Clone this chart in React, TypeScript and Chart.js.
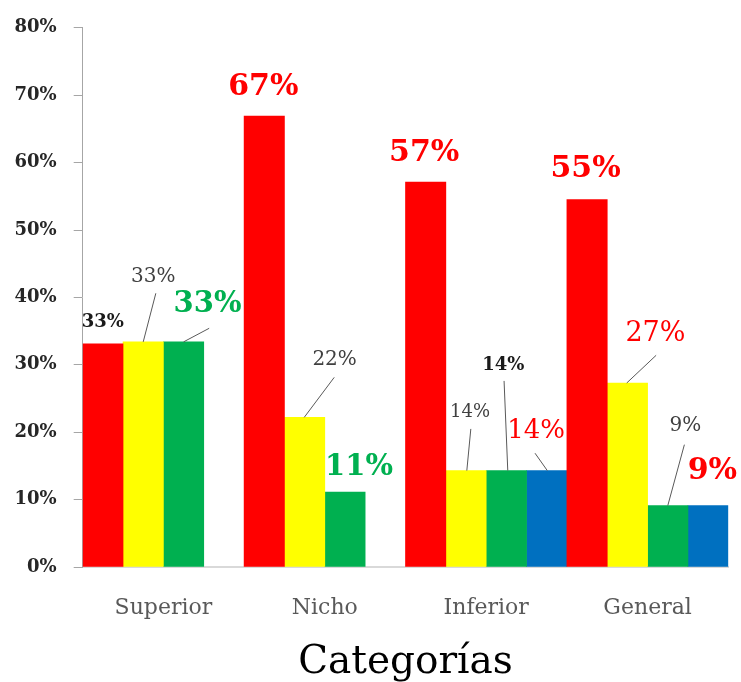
import React, { useEffect, useRef } from "react";
import { Chart, registerables } from "chart.js";

Chart.register(...registerables);

// ---- data ----
const categories = ["Superior", "Nicho", "Inferior", "General"];
const redValues = [33.1, 66.9, 57.1, 54.5];
const yellowValues = [33.4, 22.2, 14.3, 27.3];
const greenValues = [33.4, 11.1, 14.3, 9.1];
const blueValues: (number | null)[] = [null, null, 14.3, 9.1];
const yMin = 0;
const yMax = 80;
const yStep = 10;
const axisTitle = "Categorías";

// ---- styles ----
const COLORS = ["#ff0000", "#ffff00", "#00b050", "#0070c0"];
const FONT = "'DejaVu Serif', serif";
const GRAY = "#404040";
const RED = "#ff0000";
const GREEN = "#00b050";

type LabelStyle = {
  dx: number;
  dy: number;
  size: number;
  bold: boolean;
  color: string;
  leader?: [number, number, number, number];
} | null;

// offsets are relative to the top-centre of each bar
const labelStyles: LabelStyle[][] = [
  [
    { dx: 0, dy: -23, size: 18, bold: true, color: "#1a1a1a" },
    { dx: -1, dy: -32, size: 30, bold: true, color: RED },
    { dx: -1.5, dy: -32, size: 30, bold: true, color: RED },
    { dx: -1.5, dy: -33, size: 30, bold: true, color: RED },
  ],
  [
    { dx: 10, dy: -67, size: 20, bold: false, color: GRAY, leader: [0, 0, 12.6, -48.6] },
    { dx: 30, dy: -60, size: 20, bold: false, color: GRAY, leader: [-0.4, 0, 29.6, -40] },
    { dx: 4, dy: -60, size: 18, bold: false, color: GRAY, leader: [0.8, 0, 4.8, -41.7] },
    { dx: 28, dy: -52, size: 27, bold: false, color: RED, leader: [-0.7, 0, 28.7, -27.7] },
  ],
  [
    { dx: 24, dy: -40, size: 29, bold: true, color: GREEN, leader: [0, 0, 25.6, -13.6] },
    { dx: 14, dy: -28, size: 29, bold: true, color: GREEN },
    { dx: -3, dy: -107, size: 18, bold: true, color: "#1a1a1a", leader: [1.4, 0, -2.3, -89.7] },
    { dx: 17.6, dy: -82, size: 20, bold: false, color: GRAY, leader: [0, 0, 16.6, -61] },
  ],
  [
    null,
    null,
    { dx: -10.7, dy: -42, size: 26, bold: false, color: RED, leader: [0.6, 0, -11.7, -17.4] },
    { dx: 4.3, dy: -37, size: 30, bold: true, color: RED },
  ],
];

const labelPlugin = {
  id: "barLabels",
  afterDatasetsDraw(chart: any) {
    const ctx = chart.ctx;
    chart.data.datasets.forEach((ds: any, di: number) => {
      const meta = chart.getDatasetMeta(di);
      meta.data.forEach((bar: any, j: number) => {
        const st = labelStyles[di] && labelStyles[di][j];
        const v = ds.data[j];
        if (!st || v == null) return;
        const { x, y } = bar.getProps(["x", "y"], true);
        ctx.save();
        if (st.leader) {
          ctx.strokeStyle = "#595959";
          ctx.lineWidth = 1;
          ctx.beginPath();
          ctx.moveTo(x + st.leader[0], y + st.leader[1]);
          ctx.lineTo(x + st.leader[2], y + st.leader[3]);
          ctx.stroke();
        }
        ctx.fillStyle = st.color;
        ctx.font = `${st.bold ? "bold " : ""}${st.size}px ${FONT}`;
        ctx.textAlign = "center";
        ctx.textBaseline = "alphabetic";
        ctx.fillText(Math.round(v) + "%", x + st.dx, y + st.dy + 0.36 * st.size);
        ctx.restore();
      });
    });
  },
};

export default function App() {
  const ref = useRef<HTMLCanvasElement | null>(null);
  useEffect(() => {
    if (!ref.current) return;
    const series = [redValues, yellowValues, greenValues, blueValues];
    const chart = new Chart(ref.current, {
      type: "bar",
      data: {
        labels: categories,
        datasets: series.map((d, i) => ({
          label: "s" + i,
          data: d as any,
          backgroundColor: COLORS[i],
          borderWidth: 0,
          categoryPercentage: 1,
          barPercentage: 1,
        })),
      },
      options: {
        responsive: false,
        animation: false,
        layout: { padding: { left: 0, right: 12.7, top: 24.5, bottom: 0 } },
        plugins: { legend: { display: false }, tooltip: { enabled: false } },
        scales: {
          x: {
            afterFit: (s: any) => {
              s.height = 115;
            },
            grid: { drawOnChartArea: false, drawTicks: false },
            border: { color: "#d9d9d9", width: 2 },
            ticks: {
              color: "#595959",
              font: { family: FONT, size: 22 },
              padding: 28,
            },
            title: {
              display: true,
              text: axisTitle,
              color: "#000000",
              font: { family: FONT, size: 39, lineHeight: 1 },
              padding: { top: 0, bottom: 0 },
            },
          },
          y: {
            min: yMin,
            max: yMax,
            afterFit: (s: any) => {
              s.width = 82.7;
            },
            grid: {
              drawOnChartArea: false,
              drawTicks: true,
              tickLength: 9,
              color: "#a6a6a6",
            },
            border: { color: "#a6a6a6", width: 1 },
            ticks: {
              stepSize: yStep,
              color: "#262626",
              font: { family: FONT, size: 18, weight: "bold" },
              padding: 17,
              callback: (v: any) => v + "%",
            },
          },
        },
      },
      plugins: [labelPlugin],
    });
    return () => chart.destroy();
  }, []);
  return (
    <div style={{ position: "absolute", left: 0, top: 0, width: 741, height: 682, background: "#fff" }}>
      <canvas ref={ref} width={741} height={682} style={{ display: "block" }} />
    </div>
  );
}
